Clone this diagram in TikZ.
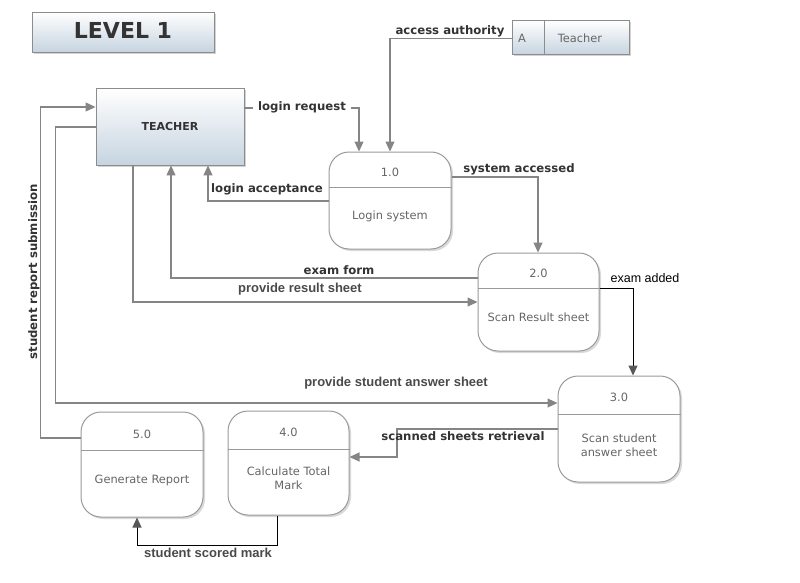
\documentclass[tikz,border=0pt]{standalone}
\usepackage{fontspec}
\setmainfont{DejaVu Sans}
\newfontfamily\arialf{Liberation Sans}
\usetikzlibrary{arrows.meta,shadows,calc}
\definecolor{linegray}{HTML}{858585}
\definecolor{labelgray}{HTML}{333333}
\definecolor{alabelgray}{HTML}{4A4A4A}
\definecolor{txtgray}{HTML}{666666}
\definecolor{boxbot}{HTML}{C6D4E0}
\definecolor{boxedge}{HTML}{8C8C8C}
\definecolor{procedge}{HTML}{9A9A9A}
\tikzset{
  entity/.style={draw=boxedge, line width=0.9pt, top color=white, bottom color=boxbot,
    drop shadow={shadow xshift=2pt, shadow yshift=-2pt, opacity=0.35}, inner sep=0pt},
  proc/.style={draw=procedge, line width=1pt, rounded corners=20pt, fill=white,
    drop shadow={shadow xshift=2pt, shadow yshift=-2pt, opacity=0.3}, inner sep=0pt},
  divline/.style={draw=procedge, line width=1pt},
  ptxt/.style={font=\fontsize{11.4}{14}\selectfont, text=txtgray, align=center, inner sep=0pt},
  flow/.style={draw=linegray, line width=1.1pt, -{Triangle[length=10pt,width=9pt]}},
  bflow/.style={draw=black, line width=1pt, -{Triangle[length=10pt,width=9pt,fill=black!65,color=black!65]}},
  lbl/.style={font=\fontsize{11.7}{14}\selectfont\bfseries, text=labelgray, inner sep=1pt},
  albl/.style={font=\arialf\fontsize{13}{15}\selectfont\bfseries, text=alabelgray, inner sep=1pt},
}
\begin{document}
\begin{tikzpicture}[x=1pt,y=-1pt]
\useasboundingbox (0,0) rectangle (800,583);

% title
\node[entity, minimum width=182pt, minimum height=40pt] (title) at (123,32) {};
\node[font=\fontsize{22}{26}\selectfont\bfseries, text=labelgray] (titletxt) at (123,30) {LEVEL 1};

% external entity
\node[entity, minimum width=148pt, minimum height=77pt] (teacher) at (170,126.5) {};
\node[font=\fontsize{11}{13}\selectfont\bfseries, text=labelgray] (teachertxt) at (170,126) {TEACHER};

% data store
\node[entity, minimum width=117pt, minimum height=34pt] (store) at (570.5,37.5) {};
\draw[draw=boxedge, line width=0.9pt] (store.north -| 544,0) -- (store.south -| 544,0);
\node[ptxt] (storeA) at (522,38) {A};
\node[ptxt] (storetxt) at (580,38) {Teacher};

% processes
\node[proc, minimum width=122pt, minimum height=97pt] (p1) at (390,200.5) {};
\draw[divline] (p1.west |- 0,187) -- (p1.east |- 0,187);
\node[ptxt] (p1num) at (p1.center |- 0,172) {1.0};
\node[ptxt] (p1txt) at (p1.center |- 0,216) {Login system};

\node[proc, minimum width=121pt, minimum height=98pt] (p2) at (538.5,302) {};
\draw[divline] (p2.west |- 0,288) -- (p2.east |- 0,288);
\node[ptxt] (p2num) at (p2.center |- 0,273) {2.0};
\node[ptxt] (p2txt) at (p2.center |- 0,317) {Scan Result sheet};

\node[proc, minimum width=122pt, minimum height=106pt] (p3) at (619,429) {};
\draw[divline] (p3.west |- 0,414) -- (p3.east |- 0,414);
\node[ptxt] (p3num) at (p3.center |- 0,397) {3.0};
\node[ptxt] (p3txt) at (p3.center |- 0,445) {Scan student\\answer sheet};

\node[proc, minimum width=121pt, minimum height=104pt] (p4) at (288.5,463) {};
\draw[divline] (p4.west |- 0,449) -- (p4.east |- 0,449);
\node[ptxt] (p4num) at (p4.center |- 0,432) {4.0};
\node[ptxt] (p4txt) at (p4.center |- 0,478) {Calculate Total\\Mark};

\node[proc, minimum width=122pt, minimum height=105pt] (p5) at (142,464.5) {};
\draw[divline] (p5.west |- 0,450) -- (p5.east |- 0,450);
\node[ptxt] (p5num) at (p5.center |- 0,434) {5.0};
\node[ptxt] (p5txt) at (p5.center |- 0,480) {Generate Report};

% flows
\draw[flow] (teacher.east |- 0,108) -| (p1.north -| 359,0);
\node[lbl, fill=white, inner xsep=5pt] (llogin) at (302,107) {login request};

\draw[flow] (store.west |- 0,38.5) -| (p1.north -| 390,0);
\node[lbl] (laccess) at (450,31) {access authority};

\draw[flow] (p1.west |- 0,201) -| (teacher.south -| 208,0);
\node[lbl] (lacc) at (267,189) {login acceptance};

\draw[flow] (p1.east |- 0,177) -| (p2.north -| 538,0);
\node[lbl] (lsys) at (519,169) {system accessed};

\draw[flow] (p2.west |- 0,278) -| (teacher.south -| 171,0);
\node[lbl] (lexam) at (339,270) {exam form};

\draw[flow] (teacher.south -| 133,0) |- (p2.west |- 0,302);
\node[albl] (lres) at (300,289) {provide result sheet};

\draw[bflow] (p2.east |- 0,288) -| (p3.north -| 633,0);
\node[font=\arialf\fontsize{12.5}{15}\selectfont, text=black, inner sep=1pt] (ladded) at (645,278) {exam added};

\draw[flow] (teacher.west |- 0,127) -- ++(-40,0) |- (p3.west |- 0,403);
\node[albl] (lstud) at (396,383) {provide student answer sheet};

\draw[flow] (p5.west |- 0,438) -- ++(-40,0) |- (teacher.west |- 0,107);
\node[lbl, rotate=90] (lrep) at (34,272) {student report submission};

\draw[flow] (p3.west |- 0,429) -- (397,429) |- (p4.east |- 0,457);
\node[lbl] (lscan) at (463,436) {scanned sheets retrieval};

\draw[bflow] (p4.south -| 277,0) -- (277,545) -| (p5.south -| 137,0);
\node[albl] (lscore) at (208,553) {student scored mark};
\end{tikzpicture}
\end{document}
